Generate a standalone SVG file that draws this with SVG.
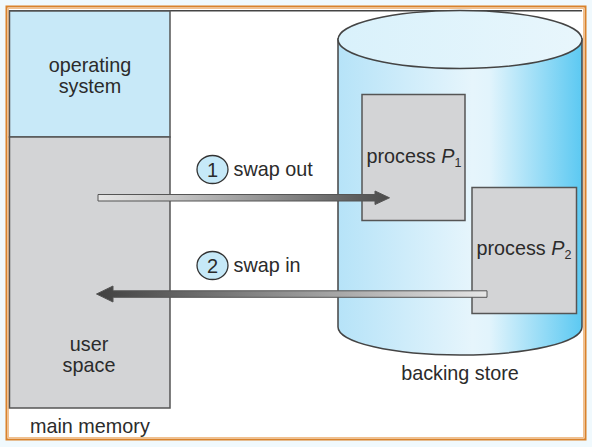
<svg xmlns="http://www.w3.org/2000/svg" width="592" height="447" viewBox="0 0 592 447">
<style>
text{font-family:"Liberation Sans",Arial,sans-serif;font-size:19.8px;fill:#2b2b2b}
.box{stroke:#555;stroke-width:1.5}
.gray{fill:#d3d4d6}
.sub{font-size:12.5px}
.num{font-size:20px;text-anchor:middle}
.circ{fill:#c6e9f8;stroke:#333;stroke-width:1.3}
</style>
<defs>
<linearGradient id="cyl" x1="0" y1="0" x2="1" y2="0">
<stop offset="0" stop-color="#b6e3f8"/>
<stop offset="0.55" stop-color="#e6f5fc"/>
<stop offset="0.62" stop-color="#e2f4fc"/>
<stop offset="1" stop-color="#5cc9f2"/>
</linearGradient>
<linearGradient id="top" x1="0" y1="0" x2="1" y2="0">
<stop offset="0" stop-color="#d9f1fb"/>
<stop offset="1" stop-color="#e8f6fc"/>
</linearGradient>
<linearGradient id="a1" x1="98" y1="0" x2="390" y2="0" gradientUnits="userSpaceOnUse">
<stop offset="0" stop-color="#e6e6e6"/>
<stop offset="0.25" stop-color="#c8c8c8"/>
<stop offset="1" stop-color="#4a4a4a"/>
</linearGradient>
<linearGradient id="a2" x1="96" y1="0" x2="487" y2="0" gradientUnits="userSpaceOnUse">
<stop offset="0" stop-color="#404040"/>
<stop offset="0.75" stop-color="#bdbdbd"/>
<stop offset="1" stop-color="#e6e6e6"/>
</linearGradient>
</defs>
<rect x="0" y="0" width="592" height="447" fill="#f0f9fd"/>
<rect x="6.5" y="6.5" width="579" height="433" fill="#ffffff" stroke="#d9822b" stroke-width="2"/>
<rect x="8.5" y="8.5" width="575" height="429" fill="none" stroke="#f1c08e" stroke-width="1"/>
<line x1="9" y1="10.8" x2="582" y2="10.8" stroke="#444" stroke-width="1.5"/>

<g id="main-memory">
<rect id="os" class="box" x="9.5" y="11" width="160.5" height="126" fill="#c8e9f8"/>
<rect id="user-space" class="box gray" x="9.5" y="137" width="160.5" height="271"/>
<text x="90" y="72" text-anchor="middle">operating</text>
<text x="90" y="93" text-anchor="middle">system</text>
<text x="89" y="351" text-anchor="middle">user</text>
<text x="89" y="372" text-anchor="middle">space</text>
<text x="30" y="433">main memory</text>
</g>

<g id="backing-store">
<path d="M338,39 L338,327 A122,28 0 0 0 582,327 L582,39 Z" fill="url(#cyl)" stroke="#444" stroke-width="1.5"/>
<ellipse cx="460" cy="39.5" rx="122" ry="29" fill="url(#top)" stroke="#444" stroke-width="1.5"/>
<text x="460" y="380" text-anchor="middle">backing store</text>
</g>

<g id="process-p1">
<rect class="box gray" x="362" y="94.5" width="103" height="126"/>
<text x="366.5" y="163">process <tspan font-style="italic">P</tspan><tspan class="sub" dy="4">1</tspan></text>
</g>

<g id="process-p2">
<rect class="box gray" x="472" y="187.5" width="104.5" height="126"/>
<text x="476.5" y="255">process <tspan font-style="italic">P</tspan><tspan class="sub" dy="4">2</tspan></text>
</g>

<g id="connectors">
<g id="swap-out">
<path d="M98,194.5 L375,194.5 L375,191 L389.5,197.8 L375,204.5 L375,201 L98,201 Z" fill="url(#a1)" stroke="#555" stroke-width="1"/>
<ellipse class="circ" cx="212.5" cy="169.5" rx="15.5" ry="14"/>
<text class="num" x="212.5" y="176.5">1</text>
<text x="233.5" y="176">swap out</text>
</g>
<g id="swap-in">
<path d="M487,290.8 L113,290.8 L113,286 L96.5,294 L113,302 L113,297.3 L487,297.3 Z" fill="url(#a2)" stroke="#555" stroke-width="1"/>
<ellipse class="circ" cx="212.5" cy="265.5" rx="15.5" ry="14"/>
<text class="num" x="212.5" y="272.5">2</text>
<text x="233.5" y="272">swap in</text>
</g>
</g>
</svg>
